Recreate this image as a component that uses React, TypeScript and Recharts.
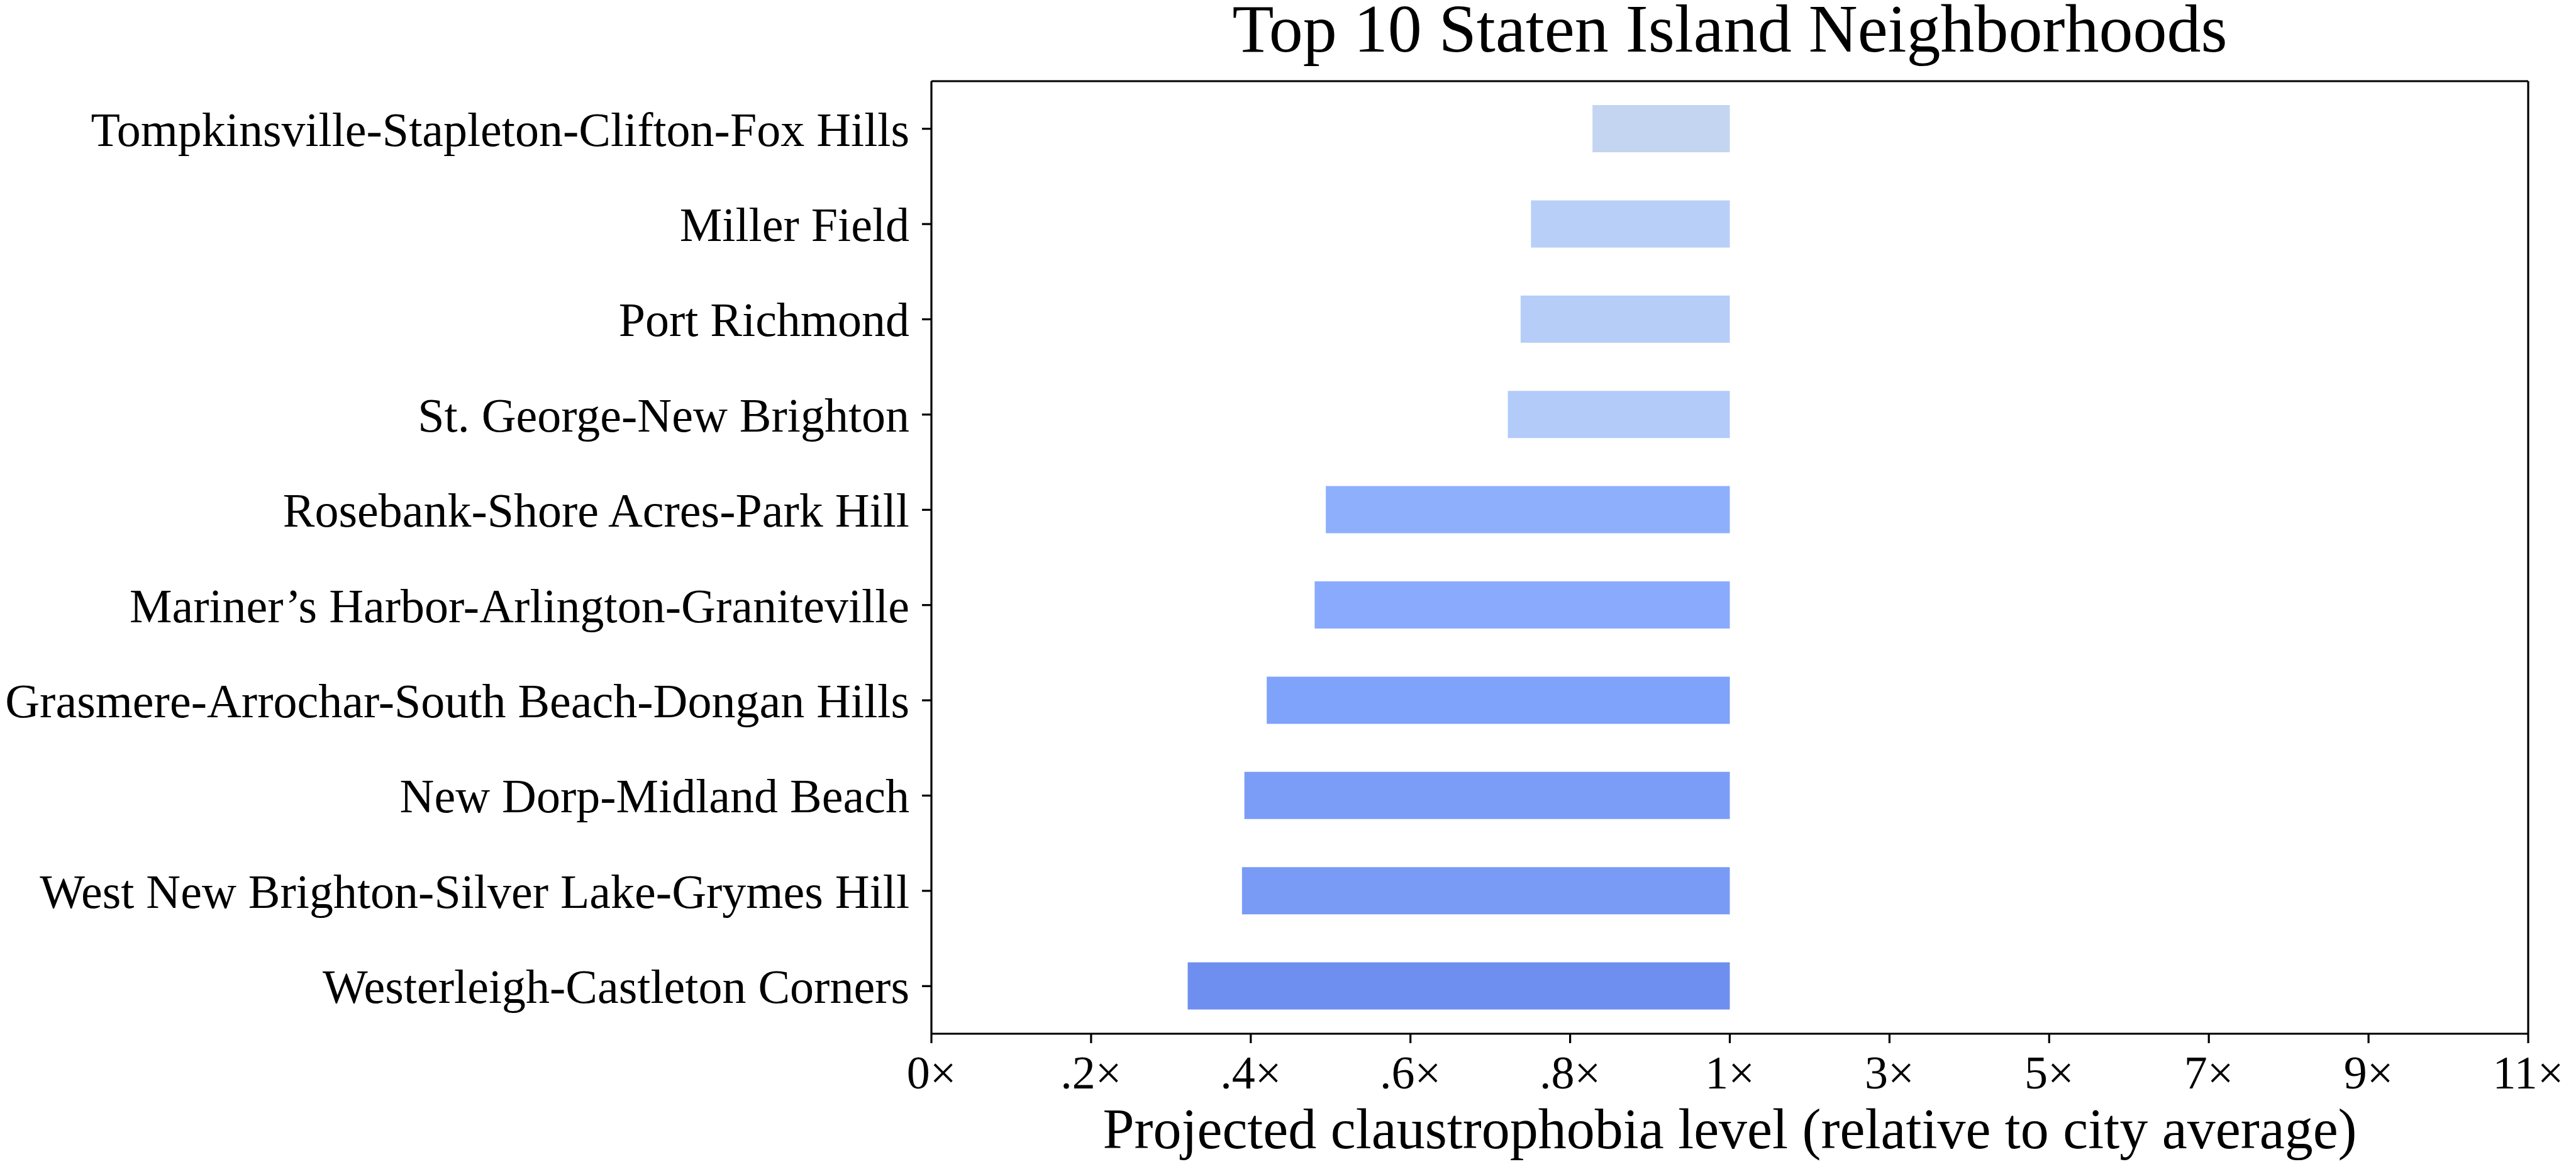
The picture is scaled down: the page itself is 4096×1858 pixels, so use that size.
import { Bar, BarChart, Cell, Label, XAxis, YAxis } from "recharts";

const neighborhoods = [
  "Tompkinsville-Stapleton-Clifton-Fox Hills",
  "Miller Field",
  "Port Richmond",
  "St. George-New Brighton",
  "Rosebank-Shore Acres-Park Hill",
  "Mariner’s Harbor-Arlington-Graniteville",
  "Grasmere-Arrochar-South Beach-Dongan Hills",
  "New Dorp-Midland Beach",
  "West New Brighton-Silver Lake-Grymes Hill",
  "Westerleigh-Castleton Corners",
];

// relative to city average (bars run from this value up to 1x)
const levels = [0.828, 0.751, 0.738, 0.722, 0.494, 0.48, 0.42, 0.392, 0.389, 0.321];

const barColors = [
  "#c4d5f2",
  "#b8cff8",
  "#b6cdf8",
  "#b2cbf9",
  "#8eb0fc",
  "#8aabfd",
  "#7fa2fa",
  "#7b9df7",
  "#799bf6",
  "#6f8ff0",
];

const tickValues = [0, 0.2, 0.4, 0.6, 0.8, 1, 3, 5, 7, 9, 11];
const tickLabels = ["0×", ".2×", ".4×", ".6×", ".8×", "1×", "3×", "5×", "7×", "9×", "11×"];

// axis is split: 0..1 takes the left half, 1..11 the right half
const toAxis = (v: number) => (v <= 1 ? v * 5 : 5 + (v - 1) / 2);

const data = neighborhoods.map((name, i) => ({
  name,
  range: [toAxis(levels[i]), toAxis(1)],
  color: barColors[i],
}));

const FONT = "'Liberation Serif', 'Times New Roman', serif";
const LINE = 3.2;

export default function App() {
  return (
    <div style={{ position: "absolute", left: 0, top: 0, width: 4096, height: 1858, background: "#fff", fontFamily: FONT }}>
      <BarChart
        width={4096}
        height={1858}
        data={data}
        layout="vertical"
        margin={{ top: 128, right: 75, bottom: 0, left: 0 }}
      >
        <XAxis
          type="number"
          domain={[0, 10]}
          ticks={tickValues.map(toAxis)}
          tickFormatter={(_v: number, i: number) => tickLabels[i]}
          interval={0}
          height={215}
          tickSize={15}
          tickMargin={19}
          axisLine={{ stroke: "#000", strokeWidth: LINE }}
          tickLine={{ stroke: "#000", strokeWidth: LINE }}
          tick={{ fontSize: 74, fill: "#000", fontFamily: FONT }}
        >
          <Label
            value="Projected claustrophobia level (relative to city average)"
            position="insideBottom"
            offset={33}
            style={{ fontSize: 90, fill: "#000", fontFamily: FONT }}
          />
        </XAxis>
        <XAxis
          xAxisId="top"
          orientation="top"
          type="number"
          domain={[0, 10]}
          height={1}
          tick={false}
          tickLine={false}
          axisLine={{ stroke: "#000", strokeWidth: LINE }}
        >
          <Label
            value="Top 10 Staten Island Neighborhoods"
            position="top"
            offset={46}
            style={{ fontSize: 108, fill: "#000", fontFamily: FONT }}
          />
        </XAxis>
        <YAxis
          type="category"
          dataKey="name"
          width={1481}
          interval={0}
          tickSize={15}
          tickMargin={20}
          axisLine={{ stroke: "#000", strokeWidth: LINE }}
          tickLine={{ stroke: "#000", strokeWidth: LINE }}
          tick={{ fontSize: 76, fill: "#000", fontFamily: FONT }}
        />
        <YAxis
          yAxisId="right"
          orientation="right"
          type="category"
          dataKey="name"
          width={1}
          tick={false}
          tickLine={false}
          axisLine={{ stroke: "#000", strokeWidth: LINE }}
        />
        <Bar dataKey="range" barSize={75} isAnimationActive={false}>
          {data.map((d, i) => (
            <Cell key={i} fill={d.color} />
          ))}
        </Bar>
      </BarChart>
    </div>
  );
}
